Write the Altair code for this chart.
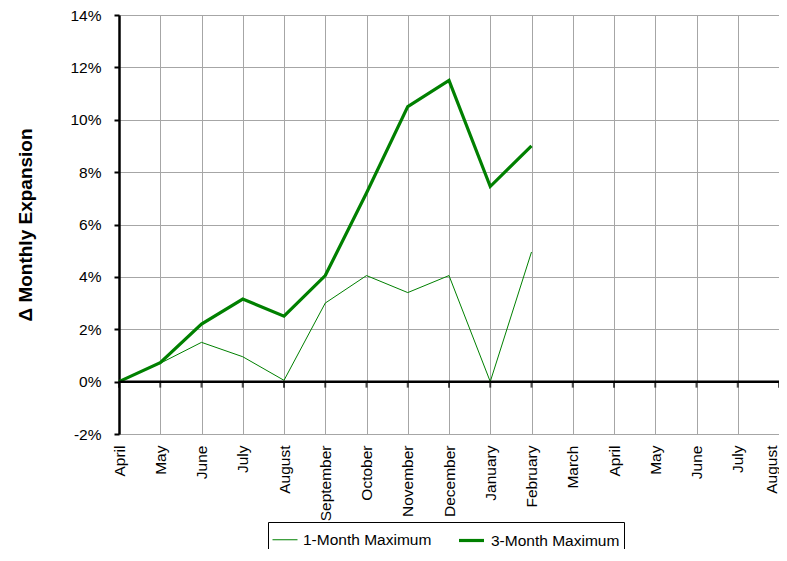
import altair as alt
import pandas as pd

months = ["April", "May", "June", "July", "August", "September", "October",
          "November", "December", "January", "February", "March",
          "April", "May", "June", "July", "August"]
one_month = [0, 0.7, 1.5, 0.95, 0.05, 3.0, 4.05, 3.4, 4.05, 0, 4.95]
three_month = [0, 0.72, 2.2, 3.15, 2.5, 4.05, 7.2, 10.5, 11.5, 7.45, 9.0]
series_names = ["1-Month Maximum", "3-Month Maximum"]
y_ticks = [-2, 0, 2, 4, 6, 8, 10, 12, 14]

rows = []
for i, v in enumerate(one_month):
    rows.append({"idx": i, "val": v, "series": series_names[0]})
for i, v in enumerate(three_month):
    rows.append({"idx": i, "val": v, "series": series_names[1]})
df = pd.DataFrame(rows)
ticks_df = pd.DataFrame({"idx": list(range(len(months))), "val": [0] * len(months)})

label_js = "[" + ",".join("'" + m + "'" for m in months) + "]"
last = len(months) - 1

xscale = alt.Scale(domain=[0, last], nice=False, zero=False)
yscale = alt.Scale(domain=[-2, 14], nice=False)

FONT = "Liberation Sans, Arial"

xaxis = alt.Axis(
    values=list(range(len(months))), labelExpr=label_js + "[datum.value]",
    labelAngle=-90, labelAlign="right",
    labelBaseline={"expr": "datum.value == %d ? 'bottom' : 'middle'" % last},
    title=None, grid=True, gridColor="#a6a6a6", gridWidth=1,
    domain=True, domainColor="#a6a6a6", ticks=False, labelPadding=11,
    labelFontSize=15.5, labelColor="black", labelFont=FONT, labelBound=False,
    labelOverlap=False)
yaxis = alt.Axis(
    values=y_ticks, labelExpr="datum.value + '%'",
    title="Δ Monthly Expansion", titleFontSize=19, titleFontWeight="bold",
    titleFont=FONT, titlePadding=34, titleColor="black",
    grid=True, gridColor="#a6a6a6", gridWidth=1,
    domainColor="black", domainWidth=2.5, tickColor="black", tickWidth=2,
    tickSize=5, labelFontSize=15.5, labelColor="black",
    labelFont=FONT, labelPadding=13)

lines = alt.Chart(df).mark_line().encode(
    x=alt.X("idx:Q", scale=xscale, axis=xaxis),
    y=alt.Y("val:Q", scale=yscale, axis=yaxis),
    color=alt.Color("series:N", scale=alt.Scale(domain=series_names,
                    range=["#008000", "#008000"]),
                    legend=alt.Legend(title=None, orient="none", direction="horizontal",
                                      legendX=149, legendY=507, symbolType="stroke",
                                      symbolSize=625, labelFontSize=15.5, labelOffset=5,
                                      labelFont=FONT, labelColor="black",
                                      strokeColor="black", padding=4, columnPadding=20)),
    strokeWidth=alt.StrokeWidth("series:N", scale=alt.Scale(domain=series_names,
                                range=[1, 3.2]), legend=alt.Legend(title=None)),
)

zero_rule = alt.Chart(pd.DataFrame({"val": [0]})).mark_rule(
    color="black", strokeWidth=2.5).encode(y=alt.Y("val:Q", scale=yscale, axis=yaxis))

zero_ticks = alt.Chart(ticks_df).mark_tick(
    color="black", thickness=2, size=6, orient="vertical", yOffset=3).encode(
    x=alt.X("idx:Q", scale=xscale, axis=xaxis), y=alt.Y("val:Q", scale=yscale, axis=yaxis))

chart = alt.layer(lines, zero_rule, zero_ticks).properties(
    width=660, height=419,
    autosize=alt.AutoSizeParams(type="none"),
    padding={"left": 111, "top": 7, "right": 0, "bottom": 115},
).configure_view(stroke="#a6a6a6", strokeWidth=1).configure(background="white")

chart.save("out.html", embed_options={"renderer": "svg", "actions": False})
